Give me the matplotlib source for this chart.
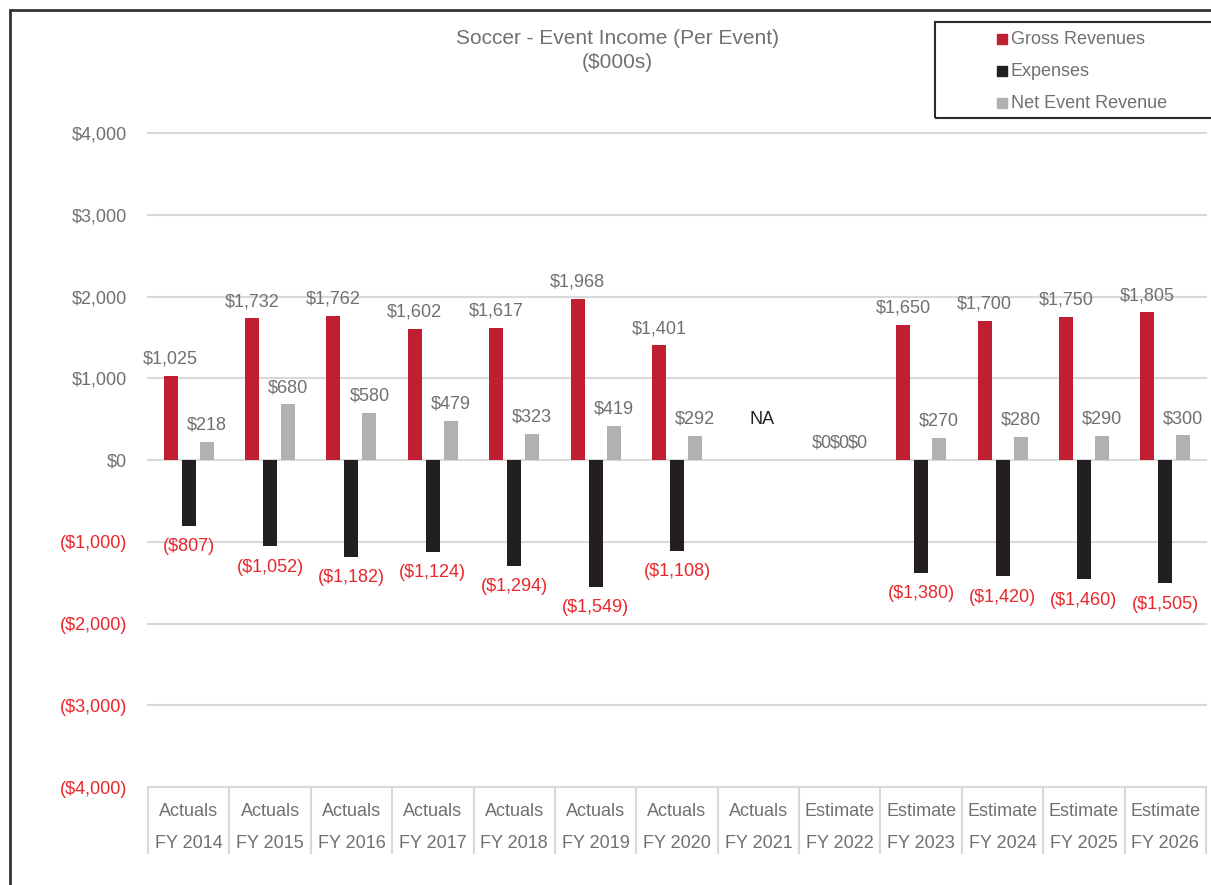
import numpy as np
import matplotlib.pyplot as plt
from matplotlib.patches import Rectangle

plt.rcParams['font.family'] = ['Liberation Sans', 'DejaVu Sans']

# 数据 ($000s)
kinds = ['Actuals'] * 8 + ['Estimate'] * 5
years = ['FY 2014', 'FY 2015', 'FY 2016', 'FY 2017', 'FY 2018', 'FY 2019', 'FY 2020',
         'FY 2021', 'FY 2022', 'FY 2023', 'FY 2024', 'FY 2025', 'FY 2026']
gross = [1025, 1732, 1762, 1602, 1617, 1968, 1401, np.nan, 0, 1650, 1700, 1750, 1805]
expenses = [-807, -1052, -1182, -1124, -1294, -1549, -1108, np.nan, 0, -1380, -1420, -1460, -1505]
net = [218, 680, 580, 479, 323, 419, 292, np.nan, 0, 270, 280, 290, 300]
na_idx = 7

RED = '#c01f32'
BLACK = '#231f20'
GREY = '#b1b1b1'
TXT = '#707070'
NEG = '#e8262b'
GRID = '#d9d9d9'

W, H = 1211, 885
fig = plt.figure(figsize=(W / 100, H / 100), dpi=100)
ax = fig.add_axes([148 / W, 1 - 787 / H, (1206 - 148) / W, (787 - 133) / H])

x = np.arange(len(years))
off = 0.221
bw = 0.172
series = [(gross, RED, 'Gross Revenues', -off),
          (expenses, BLACK, 'Expenses', 0),
          (net, GREY, 'Net Event Revenue', off)]


def money(v):
    if v < 0:
        return '(${:,.0f})'.format(-v)
    return '${:,.0f}'.format(v)


for vals, col, name, dx in series:
    ax.bar(x + dx, vals, width=bw, color=col, label=name, zorder=3)
    for xi, v in zip(x, vals):
        if np.isnan(v):
            continue
        if v < 0:
            ax.annotate(money(v), (xi + dx, v), xytext=(0, -9), textcoords='offset points',
                        ha='center', va='top', fontsize=13, color=NEG)
        else:
            ax.annotate(money(v), (xi + dx, v), xytext=(0, 6), textcoords='offset points',
                        ha='center', va='bottom', fontsize=13, color=TXT)

ax.text(na_idx + 0.05, 500, 'NA', ha='center', va='center', fontsize=13, color='#222222')

ax.set_xlim(-0.5, len(years) - 0.5)
ax.set_ylim(-4000, 4000)
ticks = np.arange(-4000, 4001, 1000)
ax.set_yticks(ticks)
ax.set_yticklabels([money(t) for t in ticks], fontsize=13)
for lab, t in zip(ax.get_yticklabels(), ticks):
    lab.set_color(NEG if t < 0 else TXT)
ax.tick_params(axis='y', length=0, pad=15)
ax.set_xticks([])
for t in ticks:
    ax.axhline(t, color=GRID, lw=1.5, zorder=0, clip_on=False)
for s in ax.spines.values():
    s.set_visible(False)

# 两级分类轴
tr = ax.get_xaxis_transform()
for b in np.arange(-0.5, len(years), 1.0):
    ax.plot([b, b], [0, -0.101], transform=tr, color=GRID, lw=1.5, clip_on=False)
for xi, k, yr in zip(x, kinds, years):
    ax.text(xi, -0.037, k, transform=tr, ha='center', va='center', fontsize=13, color=TXT)
    ax.text(xi, -0.087, yr, transform=tr, ha='center', va='center', fontsize=13, color=TXT)

fig.text(617 / W, 1 - 39 / H, 'Soccer - Event Income (Per Event)', ha='center', va='center',
         fontsize=15, color=TXT)
fig.text(617 / W, 1 - 63 / H, '($000s)', ha='center', va='center', fontsize=15, color=TXT)

# 图例
fig.patches.append(Rectangle((935 / W, 1 - 118 / H), 300 / W, 96 / H, transform=fig.transFigure,
                             fill=False, ec='#2a2a2a', lw=1.5))
for i, (vals, col, name, dx) in enumerate(series):
    yy = 39 + 32 * i
    fig.patches.append(Rectangle((997 / W, 1 - (yy + 5) / H), 10 / W, 10 / H,
                                 transform=fig.transFigure, color=col))
    fig.text(1011 / W, 1 - yy / H, name, ha='left', va='center', fontsize=13, color=TXT)

# 外框
fig.patches.append(Rectangle((10 / W, -0.1), 1.2, 1 - 10 / H + 0.1, transform=fig.transFigure,
                             fill=False, ec='#333333', lw=2))

fig.savefig('out.png', dpi=100)
